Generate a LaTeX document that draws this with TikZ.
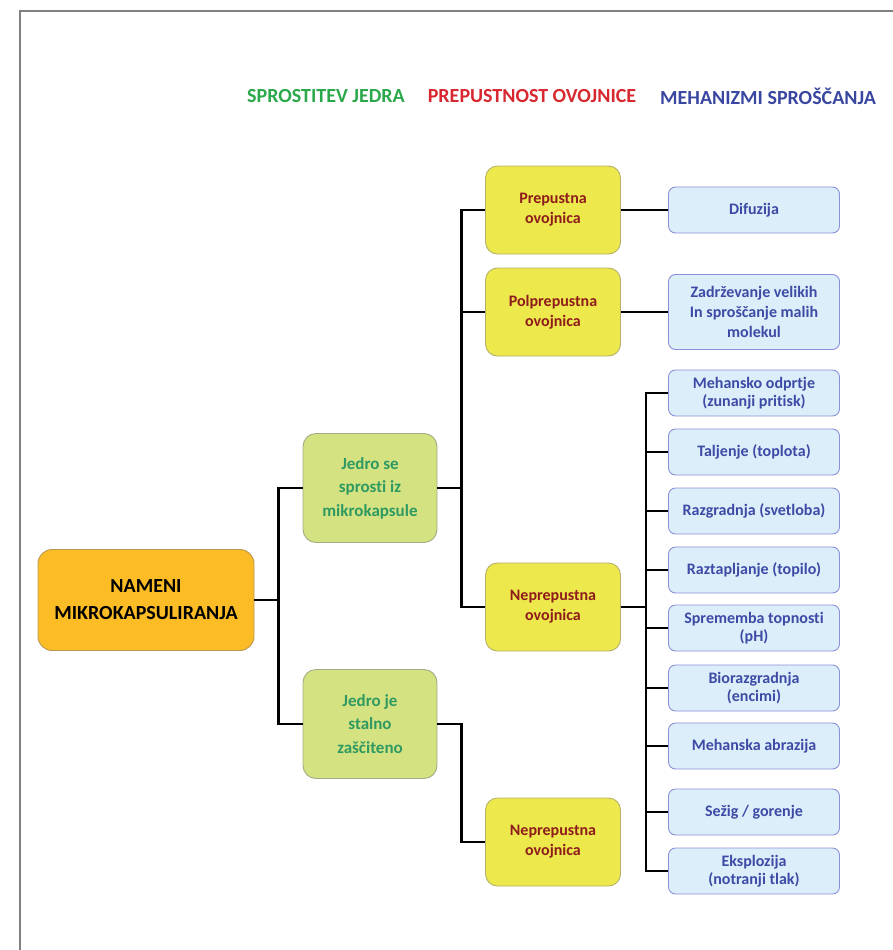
\documentclass[tikz,border=0pt]{standalone}
\usepackage{fontspec}
\setmainfont{Carlito}[Ligatures=NoCommon]
\usetikzlibrary{positioning}
\definecolor{rootfill}{HTML}{FBBC25}
\definecolor{rootdraw}{HTML}{B89A55}
\definecolor{corefill}{HTML}{D5E281}
\definecolor{coredraw}{HTML}{A2AC84}
\definecolor{coretext}{HTML}{2E9A62}
\definecolor{shellfill}{HTML}{EDE84B}
\definecolor{shelldraw}{HTML}{B5B06A}
\definecolor{shelltext}{HTML}{8E1C1C}
\definecolor{mechfill}{HTML}{DBEEF9}
\definecolor{mechdraw}{HTML}{8C90D8}
\definecolor{mechtext}{HTML}{3D4AA6}
\definecolor{hdrgreen}{HTML}{2BA84A}
\definecolor{hdrred}{HTML}{D7282F}
\definecolor{hdrblue}{HTML}{3A47A0}

\begin{document}
\begin{tikzpicture}[x=1pt, y=-1pt,
  base/.style={draw, align=center, line width=0.9pt, inner sep=2pt},
  rootbox/.style={base, rounded corners=14pt, fill=rootfill, draw=rootdraw,
                  minimum width=216pt, minimum height=101pt,
                  font=\fontsize{20}{27}\selectfont\bfseries},
  corebox/.style={base, rounded corners=13pt, fill=corefill, draw=coredraw, text=coretext,
                  minimum width=134pt, minimum height=109pt,
                  font=\fontsize{17}{23.5}\selectfont\bfseries},
  shellbox/.style={base, rounded corners=12pt, fill=shellfill, draw=shelldraw, text=shelltext,
                   minimum width=135pt, minimum height=88pt,
                   font=\fontsize{16}{20}\selectfont\bfseries},
  mechbox/.style={base, rounded corners=7pt, fill=mechfill, draw=mechdraw, text=mechtext,
                  minimum width=171pt, minimum height=46pt,
                  font=\fontsize{16}{18}\selectfont\bfseries},
  hdr/.style={font=\fontsize{20}{24}\selectfont\bfseries},
  conn/.style={line width=2.8pt}
]
\useasboundingbox (0,0) rectangle (893,950);
% ----- frame -----
\draw[gray, line width=1.3pt] (20,950) -- (20,11) -- (893,11);
% ----- column headers -----
\node[hdr, text=hdrgreen] (hcore)  at (326,96) {SPROSTITEV JEDRA};
\node[hdr, text=hdrred]   (hshell) at (532,96) {PREPUSTNOST OVOJNICE};
\node[hdr, text=hdrblue]  (hmech)  at (768,96) {MEHANIZMI SPROŠČANJA};
% ----- root and core release -----
\node[rootbox] (root) at (146,600) {NAMENI\\MIKROKAPSULIRANJA};
\node[corebox] (release) at (370,488) {Jedro se\\sprosti iz\\mikrokapsule};
\node[corebox] (protect) at (370,724) {Jedro je\\stalno\\zaščiteno};
% ----- shell permeability -----
\node[shellbox] (perm)    at (553,210) {Prepustna\\ovojnica};
\node[shellbox] (semi)    at (553,312) {Polprepustna\\ovojnica};
\node[shellbox] (imperm)  at (553,607) {Neprepustna\\ovojnica};
\node[shellbox] (imperm2) at (553,842) {Neprepustna\\ovojnica};
% ----- release mechanisms -----
\node[mechbox] (diff)  at (754,210) {Difuzija};
\node[mechbox, minimum height=75pt, font=\fontsize{16}{20}\selectfont\bfseries] (sieve) at (754,312) {Zadrževanje velikih\\In sproščanje malih\\molekul};
\node[mechbox] (mech)  at (754,393) {Mehansko odprtje\\(zunanji pritisk)};
\node[mechbox] (melt)  at (754,452) {Taljenje (toplota)};
\node[mechbox] (light) at (754,511) {Razgradnja (svetloba)};
\node[mechbox] (solv)  at (754,570) {Raztapljanje (topilo)};
\node[mechbox] (ph)    at (754,628) {Sprememba topnosti\\(pH)};
\node[mechbox] (enz)   at (754,688) {Biorazgradnja\\(encimi)};
\node[mechbox] (abr)   at (754,746) {Mehanska abrazija};
\node[mechbox] (burn)  at (754,812) {Sežig / gorenje};
\node[mechbox] (expl)  at (754,871) {Eksplozija\\(notranji tlak)};
% ----- connectors -----
\foreach \b in {release, protect}{\draw[conn] (root.east) -- ++(24,0) |- (\b.west);}
\foreach \b in {perm, semi, imperm}{\draw[conn] (release.east) -- ++(24,0) |- (\b.west);}
\draw[conn] (protect.east) -- ++(24,0) |- (imperm2.west);
\draw[conn] (perm) -- (diff);
\draw[conn] (semi) -- (sieve);
\foreach \b in {mech, melt, light, solv, ph, enz, abr, burn, expl}{\draw[conn] (imperm.east) -- ++(25,0) |- (\b.west);}
\end{tikzpicture}
\end{document}
